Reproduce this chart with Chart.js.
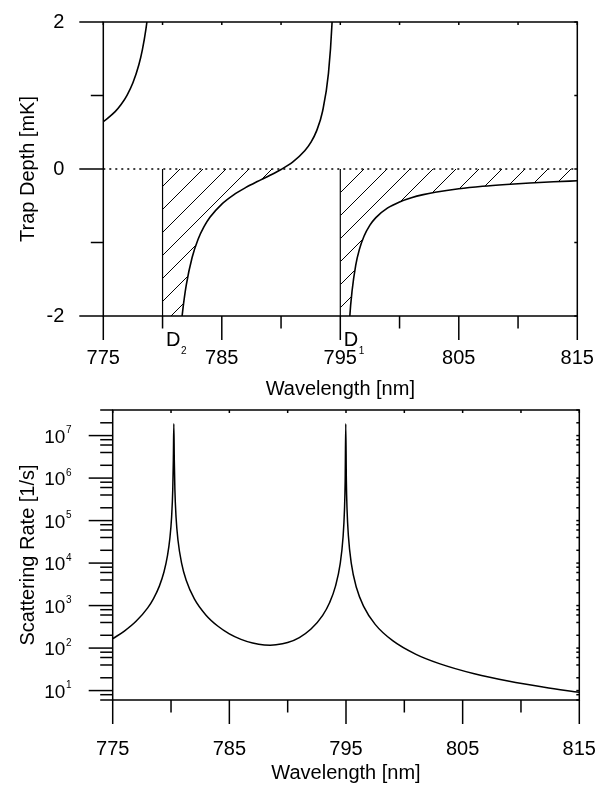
<!DOCTYPE html>
<html>
<head>
<meta charset="utf-8">
<script src="https://cdn.jsdelivr.net/npm/chart.js@4.4.0/dist/chart.umd.min.js"></script>
<style>
  body { margin: 0; background: #fff; }
  #wrap { position: relative; width: 606px; height: 785px; }
  canvas { position: absolute; left: 0; }
  #depth { top: 0; }
  #rate { top: 395px; }
</style>
</head>
<body>
<div id="wrap">
  <canvas id="depth" width="606" height="401"></canvas>
  <canvas id="rate" width="606" height="390"></canvas>
</div>
<script>
// wavelength axis (nm)
const wlTicks = [775, 785, 795, 805, 815];
const wlMinorTicks = [780, 790, 800, 810];

// trap depth (mK), three branches split at the D2 / D1 lines
const wlLeft = [775, 776, 776.5, 777, 777.5, 778, 778.3, 778.6, 778.8, 779.0];
const depthLeft = [0.643, 0.781, 0.877, 1.003, 1.173, 1.418, 1.625, 1.908, 2.16, 2.50];

const wlMid = [780.0, 780.3, 780.5, 781.0, 781.3, 781.5, 781.7, 782.0, 782.5, 783.0, 783.5, 784.0, 785.0,
  786.0, 787.0, 788.0, 789.0, 790.0, 791.0, 792.0, 792.5, 793.0, 793.5, 794.0, 794.3, 794.5];
const depthMid = [-60, -49.6, -11.4, -3.82, -2.70, -2.25, -1.93, -1.58, -1.20, -0.955, -0.784, -0.657, -0.477,
  -0.351, -0.254, -0.170, -0.091, -0.006, 0.097, 0.247, 0.358, 0.519, 0.782, 1.30, 1.98, 2.90];

const wlRight = [795.0, 795.2, 795.5, 795.8, 796.0, 796.3, 796.6, 797.0, 797.5, 798.0, 799.0, 800, 801,
  802, 803, 805, 807, 809, 811, 813, 815];
const depthRight = [-100, -6.97, -3.06, -2.01, -1.65, -1.31, -1.10, -0.915, -0.764, -0.661, -0.530, -0.448, -0.391,
  -0.349, -0.317, -0.269, -0.235, -0.210, -0.190, -0.174, -0.160];

const depthTicks = [-2, 0, 2];
const depthMinorTicks = [-1, 1];

// resonance lines
const lineWl = [780, 795];
const lineTags = [['D', '2'], ['D', '1']];

// scattering rate (1/s)
const wlRate = [775, 776, 777, 778, 778.5, 779, 779.4, 779.7, 779.9, 780.05,
  780.15, 780.2, 780.24, 780.28, 780.33, 780.43, 780.6, 780.9, 781.3, 782,
  783, 784, 785, 786, 787, 788, 788.5, 789, 790, 791,
  792, 793, 793.6, 794.1, 794.5, 794.75, 794.87, 794.93, 794.98, 795.03,
  795.09, 795.2, 795.45, 795.9, 796.5, 797.5, 799, 801, 803, 806,
  809, 812, 815];
const rate = [166, 251, 426, 884, 1461, 2870, 6245, 15100, 38070, 121900,
  543200, 2750000, 19000000, 2750000, 543200, 121900, 33960, 10110, 3928, 1434,
  593, 330, 216, 160, 131, 118, 117, 119, 135, 177,
  280, 588, 1180, 2864, 9570, 41590, 181800, 880000, 19000000, 880000,
  181800, 45480, 9979, 2617, 969, 361, 149, 71, 43, 24.8,
  16.5, 12.0, 9.1];

const rateTicks = [1e1, 1e2, 1e3, 1e4, 1e5, 1e6, 1e7];
const rateMinorSteps = [2, 4, 6, 8];

const FONT = '"Liberation Sans", Arial, sans-serif';
Chart.defaults.font.family = FONT;
Chart.defaults.color = '#000';

const pts = (xs, ys) => xs.map((x, i) => ({ x, y: ys[i] }));

function hatchPattern(ctx, p) {
  const c = document.createElement('canvas');
  c.width = p; c.height = p;
  const g = c.getContext('2d');
  g.strokeStyle = '#000';
  g.lineWidth = 1;
  g.beginPath();
  g.moveTo(-2, p + 2); g.lineTo(p + 2, -2);
  g.moveTo(-2, 2); g.lineTo(2, -2);
  g.moveTo(p - 2, p + 2); g.lineTo(p + 2, p - 2);
  g.stroke();
  const pat = ctx.createPattern(c, 'repeat');
  pat.setTransform(new DOMMatrix().translate(4, 0));
  return pat;
}

// box frame + outward ticks on left/bottom, small inward ticks on top/right
const frameTicks = {
  id: 'frameTicks',
  afterDatasetsDraw(chart, args, opts) {
    const { ctx, chartArea: a, scales: { x, y } } = chart;
    const seg = (x1, y1, x2, y2) => { ctx.beginPath(); ctx.moveTo(x1, y1); ctx.lineTo(x2, y2); ctx.stroke(); };
    ctx.save();
    ctx.strokeStyle = '#000';
    ctx.lineWidth = 1.5;
    ctx.strokeRect(a.left, a.top, a.right - a.left, a.bottom - a.top);
    wlTicks.forEach(v => {
      const px = x.getPixelForValue(v);
      seg(px, a.bottom, px, a.bottom + 24);
      seg(px, a.top, px, a.top + 3);
    });
    wlMinorTicks.forEach(v => {
      const px = x.getPixelForValue(v);
      seg(px, a.bottom, px, a.bottom + 12.5);
      seg(px, a.top, px, a.top + 3);
    });
    opts.major.forEach(v => {
      const py = y.getPixelForValue(v);
      seg(a.left - 24, py, a.left, py);
      seg(a.right - 3, py, a.right, py);
    });
    opts.minor.forEach(v => {
      const py = y.getPixelForValue(v);
      seg(a.left - 12.5, py, a.left, py);
      seg(a.right - 3, py, a.right, py);
    });
    // raised exponents for the log labels
    if (opts.exponents) {
      ctx.fillStyle = '#000';
      ctx.font = '10px ' + FONT;
      ctx.textBaseline = 'alphabetic';
      ctx.textAlign = 'left';
      opts.major.forEach(v => {
        ctx.fillText(String(Math.round(Math.log10(v))), 66, y.getPixelForValue(v) - 2.3);
      });
    }
    ctx.restore();
  }
};

const lineLabels = {
  id: 'lineLabels',
  afterDraw(chart) {
    const { ctx, chartArea: a, scales: { x } } = chart;
    ctx.save();
    ctx.fillStyle = '#000';
    ctx.textBaseline = 'alphabetic';
    lineTags.forEach((t, i) => {
      const px = x.getPixelForValue(lineWl[i]) + 3.5;
      ctx.font = '20px ' + FONT;
      ctx.fillText(t[0], px, a.bottom + 29.7);
      const w = ctx.measureText(t[0]).width;
      ctx.font = '10px ' + FONT;
      ctx.fillText(t[1], px + w + 0.5, a.bottom + 38);
    });
    ctx.restore();
  }
};

const hideGrid = { display: true, drawOnChartArea: false, drawTicks: true, tickLength: 24, tickColor: 'rgba(0,0,0,0)' };
const base = {
  responsive: false,
  animation: false,
  plugins: { legend: { display: false }, tooltip: { enabled: false } },
  elements: { point: { radius: 0 } }
};
// keep the plot box where the layout padding puts it
const fixY = w => s => { s.width = w; s.paddingTop = 0; s.paddingBottom = 0; };
const fixX = h => s => { s.height = h; s.paddingLeft = 0; s.paddingRight = 0; };

const depthCtx = document.getElementById('depth').getContext('2d');
const hatch = hatchPattern(depthCtx, 23);
const curve = { borderColor: '#000', borderWidth: 1.6, cubicInterpolationMode: 'monotone', fill: false };

new Chart(depthCtx, {
  type: 'line',
  data: {
    datasets: [
      { ...curve, data: pts(wlLeft, depthLeft) },
      { ...curve, data: pts(wlMid, depthMid), fill: { target: 'origin', above: 'rgba(0,0,0,0)', below: hatch } },
      { ...curve, data: pts(wlRight, depthRight), fill: { target: 'origin', above: 'rgba(0,0,0,0)', below: hatch } },
      { data: pts([775, 815], [0, 0]), borderColor: '#000', borderWidth: 1.3, borderDash: [2, 4], fill: false },
      { data: pts([lineWl[0], lineWl[0]], [0, -2]), borderColor: '#000', borderWidth: 1.2, fill: false },
      { data: pts([lineWl[1], lineWl[1]], [0, -2]), borderColor: '#000', borderWidth: 1.2, fill: false }
    ]
  },
  options: {
    ...base,
    layout: { padding: { top: 22, right: 28.7, left: 0, bottom: 0 } },
    plugins: { ...base.plugins, frameTicks: { major: depthTicks, minor: depthMinorTicks } },
    scales: {
      x: {
        type: 'linear', min: 775, max: 815,
        afterBuildTicks: s => { s.ticks = wlTicks.map(v => ({ value: v })); },
        afterFit: fixX(85),
        grid: hideGrid,
        border: { display: false },
        ticks: { autoSkip: false, maxRotation: 0, padding: 6.7, font: { size: 20 }, callback: v => String(v) },
        title: { display: true, text: 'Wavelength [nm]', font: { size: 20 }, padding: { top: 0, bottom: 0 } }
      },
      y: {
        min: -2, max: 2,
        afterBuildTicks: s => { s.ticks = depthTicks.map(v => ({ value: v })); },
        afterFit: fixY(103.3),
        grid: hideGrid,
        border: { display: false },
        ticks: { padding: 15, font: { size: 20 }, callback: v => String(v) },
        title: { display: true, text: 'Trap Depth [mK]', font: { size: 20 }, padding: { top: 16, bottom: 0 } }
      }
    }
  },
  plugins: [frameTicks, lineLabels]
});

const rateMinor = [];
[1, 10, 100, 1e3, 1e4, 1e5, 1e6, 1e7].forEach(d => rateMinorSteps.forEach(m => {
  const v = m * d;
  if (v >= 6 && v <= 4e7) rateMinor.push(v);
}));

new Chart(document.getElementById('rate'), {
  type: 'line',
  data: {
    datasets: [
      { ...curve, borderWidth: 1.5, borderJoinStyle: 'round', data: pts(wlRate, rate) }
    ]
  },
  options: {
    ...base,
    layout: { padding: { top: 15, right: 26.7, left: 0, bottom: 0 } },
    plugins: { ...base.plugins, frameTicks: { major: rateTicks, minor: rateMinor, exponents: true } },
    scales: {
      x: {
        type: 'linear', min: 775, max: 815,
        afterBuildTicks: s => { s.ticks = wlTicks.map(v => ({ value: v })); },
        afterFit: fixX(85),
        grid: hideGrid,
        border: { display: false },
        ticks: { autoSkip: false, maxRotation: 0, padding: 13.7, font: { size: 20 }, callback: v => String(v) },
        title: { display: true, text: 'Wavelength [nm]', font: { size: 20 }, padding: { top: 0, bottom: 0 } }
      },
      y: {
        type: 'logarithmic', min: 6, max: 4e7,
        afterBuildTicks: s => { s.ticks = rateTicks.map(v => ({ value: v })); },
        afterFit: fixY(112.7),
        grid: hideGrid,
        border: { display: false },
        ticks: { padding: 23.4, labelOffset: 2, font: { size: 19 }, callback: () => '10' },
        title: { display: true, text: 'Scattering Rate [1/s]', font: { size: 20 }, padding: { top: 16, bottom: 0 } }
      }
    }
  },
  plugins: [frameTicks]
});
</script>
</body>
</html>
